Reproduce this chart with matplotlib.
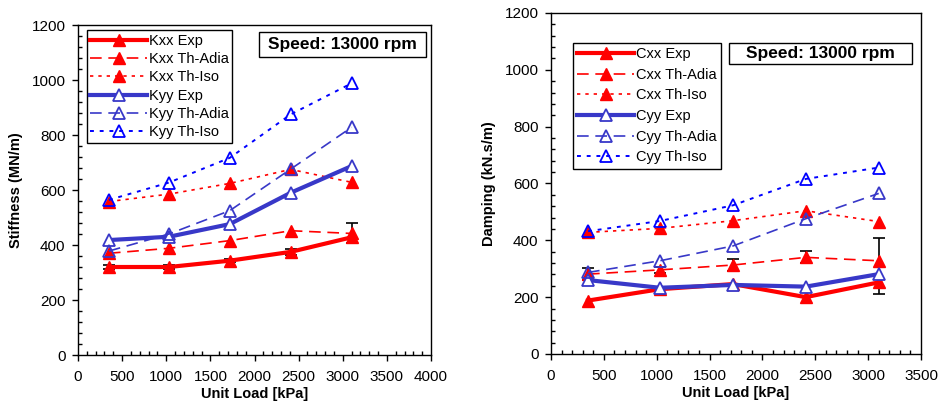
import matplotlib.pyplot as plt
from matplotlib.ticker import MultipleLocator
from matplotlib.patches import Rectangle

plt.rcParams['font.family'] = ['Liberation Sans', 'DejaVu Sans']

#Unit load values (kPa)
load = [350, 1030, 1720, 2410, 3100]

#Stiffness (MN/m)
kxxExp = [320, 320, 343, 375, 428]
kxxAdia = [370, 388, 416, 452, 442]
kxxIso = [558, 585, 624, 675, 628]
kyyExp = [418, 430, 476, 590, 687]
kyyAdia = [378, 440, 525, 676, 828]
kyyIso = [564, 627, 717, 875, 988]
kxxErrLow = [8, 8, 6, 12, 20]
kxxErrHigh = [8, 8, 6, 12, 53]

#Damping (kN.s/m)
cxxExp = [188, 228, 246, 200, 252]
cxxAdia = [281, 296, 313, 340, 328]
cxxIso = [428, 442, 469, 504, 466]
cyyExp = [260, 233, 243, 237, 281]
cyyAdia = [287, 328, 380, 476, 565]
cyyIso = [432, 468, 523, 616, 656]
cxxErrLow = [22, 10, 20, 20, 117]
cxxErrHigh = [22, 10, 20, 21, 81]

red = '#ff0000'
blue = '#3838c8'
blue2 = '#0000ff'


def drawPanel(ax, name, exp, adia, iso, expY, adiaY, isoY, errSeries, errLow, errHigh):
    ax.errorbar(load, errSeries, yerr=[errLow, errHigh], fmt='none', ecolor='black',
                elinewidth=1.2, capsize=4, capthick=1.2, zorder=1)
    ax.plot(load, exp, color=red, lw=3, marker='^', ms=8, mfc=red, mec=red,
            label=name[0] + ' Exp', zorder=3)
    ax.plot(load, adia, color=red, lw=1.2, dashes=(7, 4), marker='^', ms=8, mfc=red, mec=red,
            label=name[0] + ' Th-Adia', zorder=3)
    ax.plot(load, iso, color=red, lw=1.2, dashes=(2, 3), marker='^', ms=8, mfc=red, mec=red,
            label=name[0] + ' Th-Iso', zorder=3)
    ax.plot(load, expY, color=blue, lw=3, marker='^', ms=8, mfc='white', mec=blue,
            mew=1.3, label=name[1] + ' Exp', zorder=4)
    ax.plot(load, adiaY, color=blue, lw=1.2, dashes=(7, 4), marker='^', ms=8, mfc='none',
            mec=blue, mew=1.3, label=name[1] + ' Th-Adia', zorder=4)
    ax.plot(load, isoY, color=blue2, lw=1.4, dashes=(2, 3), marker='^', ms=8, mfc='none',
            mec=blue2, mew=1.3, label=name[1] + ' Th-Iso', zorder=4)

    ax.set_ylim(0, 1200)
    ax.yaxis.set_major_locator(MultipleLocator(200))
    ax.yaxis.set_minor_locator(MultipleLocator(40))
    ax.xaxis.set_major_locator(MultipleLocator(500))
    ax.xaxis.set_minor_locator(MultipleLocator(100))
    ax.tick_params(which='major', direction='out', length=4, labelsize=11, width=1, pad=5)
    ax.tick_params(axis='x', which='major', pad=7)
    ax.tick_params(which='minor', direction='in', length=3, width=1)
    for s in ax.spines.values():
        s.set_linewidth(1)
    ax.set_xlabel('Unit Load [kPa]', fontsize=10.5, fontweight='bold', labelpad=2)


def speedBox(ax, x0, y0, x1, y1):
    ax.add_patch(Rectangle((x0, y0), x1 - x0, y1 - y0, transform=ax.transAxes,
                           fc='white', ec='black', lw=1, zorder=6))
    ax.text((x0 + x1) / 2, (y0 + y1) / 2, 'Speed: 13000 rpm', transform=ax.transAxes,
            ha='center', va='center', fontsize=12.5, fontweight='bold', zorder=7)


fig = plt.figure(figsize=(9.4, 4.08), dpi=100)

ax1 = fig.add_axes([0.083, 0.1299, 0.3755, 0.8088])
drawPanel(ax1, ['Kxx', 'Kyy'], kxxExp, kxxAdia, kxxIso, kyyExp, kyyAdia, kyyIso,
          kxxExp, kxxErrLow, kxxErrHigh)
ax1.set_xlim(0, 4000)
ax1.set_ylabel('Stiffness (MN/m)', fontsize=10.5, fontweight='bold', labelpad=6)
leg1 = ax1.legend(loc='upper left', bbox_to_anchor=(0.025, 0.985), fontsize=10.5,
                  handlelength=3.9, handletextpad=0.1, labelspacing=0.3, borderpad=0.25,
                  borderaxespad=0, fancybox=False, framealpha=1, edgecolor='black')
leg1.get_frame().set_linewidth(1)
speedBox(ax1, 0.513, 0.903, 0.986, 0.979)

ax2 = fig.add_axes([0.5862, 0.1324, 0.3936, 0.8358])
drawPanel(ax2, ['Cxx', 'Cyy'], cxxExp, cxxAdia, cxxIso, cyyExp, cyyAdia, cyyIso,
          cxxAdia, cxxErrLow, cxxErrHigh)
ax2.set_xlim(0, 3500)
ax2.set_ylabel('Damping (kN.s/m)', fontsize=10.5, fontweight='bold', labelpad=6)
leg2 = ax2.legend(loc='upper left', bbox_to_anchor=(0.059, 0.912), fontsize=10.5,
                  handlelength=3.9, handletextpad=0.1, labelspacing=0.45, borderpad=0.3,
                  borderaxespad=0, fancybox=False, framealpha=1, edgecolor='black')
leg2.get_frame().set_linewidth(1)
speedBox(ax2, 0.481, 0.850, 0.976, 0.912)

fig.savefig('out.png', dpi=100)
